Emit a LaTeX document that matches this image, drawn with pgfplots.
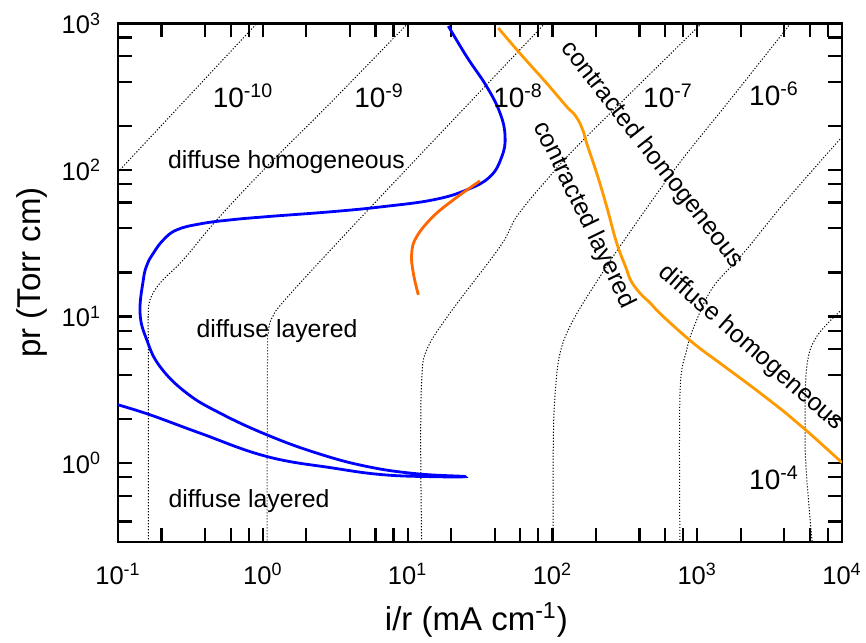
\documentclass[border=0pt]{standalone}
\usepackage{fontspec}
\setmainfont{Liberation Sans}
\usepackage{pgfplots}
\pgfplotsset{compat=1.18}
\definecolor{cblue}{RGB}{0,0,255}
\definecolor{corange}{RGB}{255,102,0}
\definecolor{clorange}{RGB}{255,153,0}
\newcommand{\tfont}{\fontsize{12.75}{15}\selectfont}
\newcommand{\nfont}{\fontsize{14}{16}\selectfont}
\newcommand{\lfont}{\fontsize{12.4}{15}\selectfont}
\newcommand{\afont}{\fontsize{16.5}{19}\selectfont}
\begin{document}
\begin{tikzpicture}
\begin{axis}[
  name=ax,
  scale only axis, width=362pt, height=259.35pt,
  xmode=log, ymode=log,
  xmin=0.1, xmax=10000, ymin=0.29, ymax=1000,
  axis line style={line width=1.3pt},
  every tick/.style={line width=1.1pt, black},
  major tick length=7pt, minor tick length=7pt,
  tick align=inside,
  xtick={0.1,1,10,100,1000,10000},
  xticklabels={10\textsuperscript{-1},10\textsuperscript{0},10\textsuperscript{1},10\textsuperscript{2},10\textsuperscript{3},10\textsuperscript{4}},
  ytick={1,10,100,1000},
  yticklabels={10\textsuperscript{0},10\textsuperscript{1},10\textsuperscript{2},10\textsuperscript{3}},
  minor xtick={0.2,0.4,0.6,0.8,2,4,6,8,20,40,60,80,200,400,600,800,2000,4000,6000,8000},
  minor ytick={0.4,0.6,0.8,2,4,6,8,20,40,60,80,200,400,600,800},
  xticklabel style={font=\tfont, yshift=-7pt},
  yticklabel style={font=\tfont, xshift=-5pt},
  xlabel={i/r (mA cm\textsuperscript{-1})},
  ylabel={pr (Torr cm)},
  xlabel style={font=\afont, at={(axis description cs:0.495,-0.1504)}, anchor=center},
  ylabel style={font=\afont, at={(axis description cs:-0.1188,0.52)}, anchor=center},
  clip=true,
]
% iso-lines (dotted)
\pgfplotsset{iso/.style={black, line width=0.5pt, dash pattern=on 0.6pt off 0.9pt, smooth, tension=0.6}}
\addplot[iso] coordinates {(0.1,96.9) (0.912,1000)};
\addplot[iso] coordinates {(10.06,1000) (3.07,300) (1.064,105.3) (0.481,45.6) (0.2825,24.4) (0.195,16.9) (0.1664,13.0) (0.1618,10.0) (0.1618,6.94) (0.1618,0.25)};
\addplot[iso] coordinates {(88.9,1000) (12.18,126.5) (3.41,33.3) (1.423,13.0) (1.157,9.80) (1.091,7.74) (1.078,5.07) (1.069,0.25)};
\addplot[iso] coordinates {(1074,1000) (163.5,160.1) (91.3,85.5) (56.7,48.1) (43.5,30.0) (19.6,10.55) (13.55,5.93) (12.52,3.70) (12.32,1.30) (12.52,0.25)};
\addplot[iso] coordinates {(4423,1000) (1684,300) (721.9,105.3) (326,35.1) (213.2,18.74) (139.4,9.49) (112.9,5.63) (104.2,2.85) (101.4,1.30) (101.4,0.25)};
\addplot[iso] coordinates {(10000,167.9) (4150,62.4) (2082,27.0) (1292,16.0) (992,9.49) (846,5.93) (760.6,2.93) (760.6,0.25)};
\addplot[iso] coordinates {(10000,11.2) (6687,7.3) (5705,4.5) (5553,1.604) (5705,0.8) (6305,0.25)};
% blue curve
\addplot[cblue, line width=1.4pt, smooth, tension=0.7] coordinates {
(19.1,959) (25.6,592) (35.2,370) (43.5,244) (47.1,169) (44.7,123) (37.1,90) (25.6,73.1)
(15.0,62.5) (6.79,56.2) (3.07,52.0) (1.064,48.0) (0.5937,45.6) (0.3684,42.85) (0.2543,39.0)
(0.2055,33.3) (0.1753,27.0) (0.1586,22.5)
(0.1496,17.8) (0.142,10.55) (0.158,6.94) (0.195,4.56) (0.2981,3.005) (0.5064,2.195)
(1.064,1.563) (2.356,1.172) (5.22,0.950) (11.56,0.847) (24.9,0.811)
(15.0,0.809) (6.79,0.834) (3.07,0.926) (1.064,1.111) (0.368,1.604) (0.1664,2.138) (0.1,2.50)};
% dark orange curve
\addplot[corange, line width=1.4pt, smooth, tension=0.7] coordinates {
(11.86,14.06) (10.95,19.8) (10.67,27.0) (11.56,35.1) (15.0,48.1) (20.7,62.5) (27.7,76.9) (31.6,84.1)};
% light orange curve
\addplot[clorange, line width=1.4pt, smooth, tension=0.7] coordinates {
(42.3,929) (59.7,624) (91.3,390) (125.6,270) (141.0,240.9) (155.1,208) (164,181.6) (172.5,152)
(202.3,95.0) (237.1,56.2) (278,31.7) (322.3,21.48) (349,17.51) (402.7,14.44) (472,12.40)
(583.4,10.0) (939.8,6.59) (1437,4.81) (2440,3.266) (4150,2.172) (5705,1.663) (9193,1.088) (10000,1.006)};
% labels
\node[font=\nfont] at (axis cs:0.730,319.5) {10\textsuperscript{-10}};
\node[font=\nfont] at (axis cs:6.35,319.5) {10\textsuperscript{-9}};
\node[font=\nfont] at (axis cs:57.9,319.5) {10\textsuperscript{-8}};
\node[font=\nfont] at (axis cs:628.5,319.5) {10\textsuperscript{-7}};
\node[font=\nfont] at (axis cs:3392,329.6) {10\textsuperscript{-6}};
\node[font=\nfont] at (axis cs:3392,0.795) {10\textsuperscript{-4}};
\node[font=\lfont] at (axis cs:1.458,113.4) {diffuse homogeneous};
\node[font=\lfont] at (axis cs:1.253,7.99) {diffuse layered};
\node[font=\lfont] at (axis cs:0.803,0.554) {diffuse layered};
\node[font=\lfont, rotate=-51.8] at (axis cs:487.3,126.5) {contracted homogeneous};
\node[font=\lfont, rotate=-64] at (axis cs:165.3,49.3) {contracted layered};
\node[font=\lfont, rotate=-41.3] at (axis cs:2352,6.12) {diffuse homogeneous};
\coordinate (SW) at (rel axis cs:0,0);
\coordinate (NE) at (rel axis cs:1,1);
\end{axis}
\pgfresetboundingbox
\path ([shift={(-59pt,-50pt)}]SW) rectangle ([shift={(12pt,11.65pt)}]NE);
\end{tikzpicture}
\end{document}
